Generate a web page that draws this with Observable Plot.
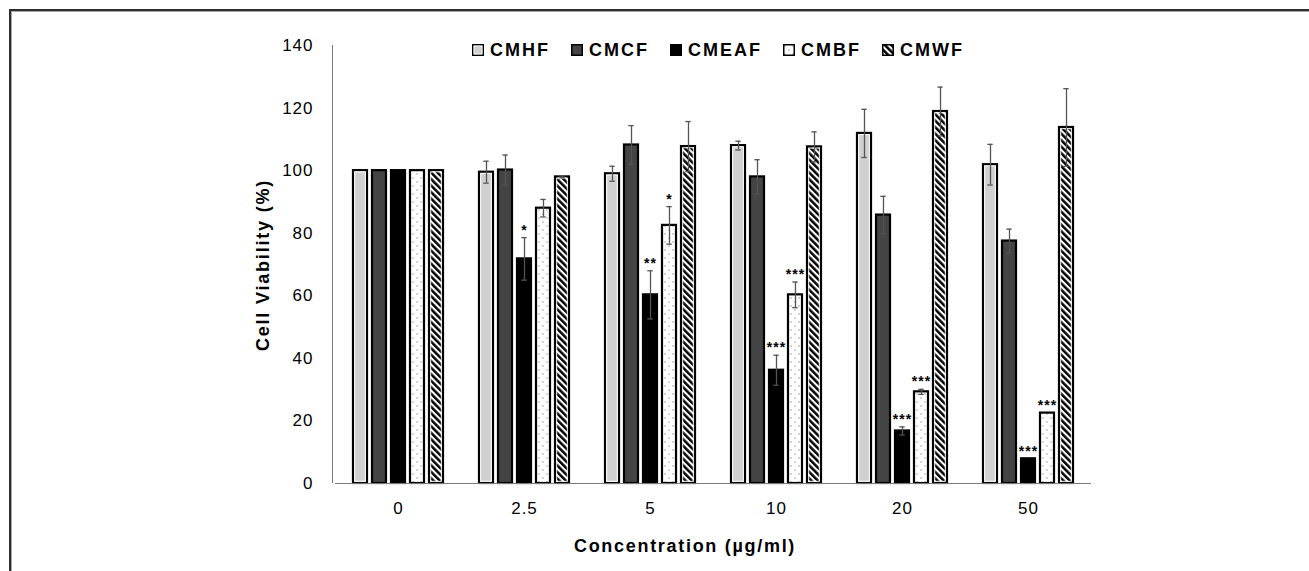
<!DOCTYPE html>
<html>
<head>
<meta charset="utf-8">
<script src="https://cdn.jsdelivr.net/npm/d3@7"></script>
<script src="https://cdn.jsdelivr.net/npm/@observablehq/plot@0.6"></script>
<style>
html, body { margin: 0; padding: 0; background: #fff; }
#wrap { position: relative; width: 1309px; height: 571px; overflow: hidden; font-family: "Liberation Sans", Arial, sans-serif; color: #000; }
#frame { position: absolute; left: 9px; top: 9px; right: -10px; bottom: -10px; border-top: 2px solid #2e2e2e; border-left: 2px solid #2e2e2e; box-shadow: inset 1px 1px 0 #a8a8a8; }
#chart { position: absolute; left: 0; top: 0; }
#yline { position: absolute; left: 332px; top: 45px; width: 1px; height: 438px; background: #7a7a7a; }
#legend { position: absolute; left: 472px; top: 39px; display: flex; gap: 21px; align-items: center; }
#legend .item { display: flex; align-items: center; gap: 6px; }
#legend .lt { font-size: 18px; font-weight: bold; letter-spacing: 2px; line-height: 22px; }
#legend svg { display: block; }
#ytitle { position: absolute; left: 263px; top: 265px; transform: translate(-50%, -50%) rotate(-90deg); font-size: 18px; font-weight: bold; white-space: nowrap; letter-spacing: 1.8px; }
#xtitle { position: absolute; left: 685px; top: 546px; transform: translate(-50%, -50%); font-size: 18px; font-weight: bold; white-space: nowrap; letter-spacing: 1.7px; }
</style>
</head>
<body>
<div id="wrap">
  <svg width="0" height="0" style="position:absolute">
    <defs>
      <pattern id="hatch" patternUnits="userSpaceOnUse" width="4.6" height="4.6" patternTransform="rotate(-45)">
        <rect width="4.6" height="4.6" fill="#fff"></rect>
        <rect width="2.5" height="4.6" fill="#000"></rect>
      </pattern>
      <pattern id="dots" patternUnits="userSpaceOnUse" width="8" height="8">
        <rect width="8" height="8" fill="#fff"></rect>
        <circle cx="2" cy="2" r="0.75" fill="#959595"></circle>
        <circle cx="6" cy="6" r="0.75" fill="#959595"></circle>
      </pattern>
    </defs>
  </svg>
  <div id="frame"></div>
  <div id="chart"></div>
  <div id="yline"></div>
  <div id="legend"></div>
  <div id="ytitle">Cell Viability (%)</div>
  <div id="xtitle">Concentration (µg/ml)</div>
</div>
<script>
// ---- data ----
const concentrations = ["0", "2.5", "5", "10", "20", "50"];
const series = ["CMHF", "CMCF", "CMEAF", "CMBF", "CMWF"];

const CMHF  = [100, 99.5,  99.0, 108.0, 111.9, 101.9];
const CMCF  = [100, 100.2, 108.2, 98.0,  85.8,  77.5];
const CMEAF = [100, 71.8,  60.3,  36.2,  16.8,   7.9];
const CMBF  = [100, 88.0,  82.5,  60.3,  29.3,  22.5];
const CMWF  = [100, 98.0,  107.7, 107.6, 118.9, 113.8];

const CMHF_err  = [0, 3.5, 2.4, 1.4, 7.7, 6.5];
const CMCF_err  = [0, 4.8, 6.2, 5.5, 6.0, 3.8];
const CMEAF_err = [0, 6.8, 7.7, 4.8, 1.3, 0];
const CMBF_err  = [0, 2.8, 6.0, 4.1, 0.8, 0];
const CMWF_err  = [0, 0.3, 8.0, 4.8, 7.8, 12.4];

const CMHF_sig  = ["", "", "", "", "", ""];
const CMCF_sig  = ["", "", "", "", "", ""];
const CMEAF_sig = ["", "*", "**", "***", "***", "***"];
const CMBF_sig  = ["", "", "*", "***", "***", "***"];
const CMWF_sig  = ["", "", "", "", "", ""];

const yTicks = [0, 20, 40, 60, 80, 100, 120, 140];

// ---- build table ----
const valuesBy = {CMHF, CMCF, CMEAF, CMBF, CMWF};
const errBy = {CMHF: CMHF_err, CMCF: CMCF_err, CMEAF: CMEAF_err, CMBF: CMBF_err, CMWF: CMWF_err};
const sigBy = {CMHF: CMHF_sig, CMCF: CMCF_sig, CMEAF: CMEAF_sig, CMBF: CMBF_sig, CMWF: CMWF_sig};

const rows = [];
concentrations.forEach((c, i) => {
  series.forEach(s => {
    rows.push({conc: c, series: s, value: valuesBy[s][i], err: errBy[s][i], sig: sigBy[s][i]});
  });
});
const errRows = rows.filter(d => d.err > 0);
const sigRows = rows.filter(d => d.sig);
const lightRows = rows.filter(d => d.series === "CMHF" || d.series === "CMWF");

const fills = ["#d0d0d0", "#444444", "#000000", "url(#dots)", "url(#hatch)"];

const chart = Plot.plot({
  width: 1309,
  height: 571,
  marginLeft: 332,
  marginRight: 216,
  marginTop: 45,
  marginBottom: 88,
  style: {fontFamily: "'Liberation Sans', Arial, sans-serif", fontSize: "17px", letterSpacing: "1px", color: "#000", background: "transparent"},
  fx: {domain: concentrations, padding: 0, axis: "bottom", tickSize: 0, tickPadding: 18, label: null},
  x: {domain: series, paddingInner: 0.25, paddingOuter: 0.88, axis: null},
  y: {domain: [0, 140], ticks: yTicks, tickSize: 0, tickPadding: 22, label: null},
  color: {domain: series, range: fills, legend: false},
  marks: [
    Plot.barY(rows, {fx: "conc", x: "series", y: "value", fill: "series", stroke: "#000", strokeWidth: 2.2}),
    Plot.barY(lightRows, {fx: "conc", x: "series", y: "value", fill: "none", stroke: "#fff", strokeWidth: 1, inset: 1.7}),
    Plot.ruleY([0], {stroke: "#7a7a7a", strokeWidth: 1}),
    Plot.ruleX(errRows, {fx: "conc", x: "series", y1: d => d.value - d.err, y2: d => d.value + d.err, stroke: "#555", strokeWidth: 1.3}),
    Plot.tickY(errRows, {fx: "conc", x: "series", y: d => d.value + d.err, stroke: "#555", strokeWidth: 1.3, insetLeft: 4.3, insetRight: 4.3}),
    Plot.tickY(errRows, {fx: "conc", x: "series", y: d => d.value - d.err, stroke: "#555", strokeWidth: 1.3, insetLeft: 4.3, insetRight: 4.3}),
    Plot.text(sigRows, {fx: "conc", x: "series", y: d => d.value + d.err, text: "sig", lineAnchor: "bottom", dy: -3, fontSize: 14, fontWeight: "bold", fill: "#000"})
  ]
});
document.getElementById("chart").appendChild(chart);

// ---- legend ----
const legend = document.getElementById("legend");
series.forEach((s, i) => {
  const item = document.createElement("div");
  item.className = "item";
  const inner = (s === "CMHF") ? '<rect x="2" y="2" width="8" height="8" fill="none" stroke="#fff" stroke-width="0.8"></rect>' : '';
  item.innerHTML = '<svg width="12" height="12"><rect x="0.75" y="0.75" width="10.5" height="10.5" fill="' + fills[i] + '" stroke="#000" stroke-width="1.5"></rect>' + inner + '</svg><span class="lt">' + s + '</span>';
  legend.appendChild(item);
});
</script>
</body>
</html>
